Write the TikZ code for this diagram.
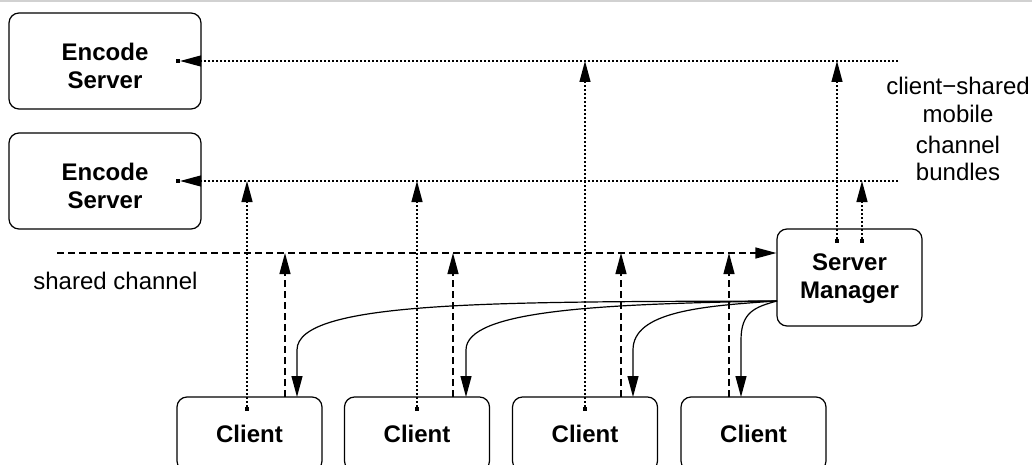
\documentclass[tikz,border=0pt]{standalone}
\usepackage{fontspec}
\setmainfont{Liberation Sans}
\usetikzlibrary{arrows.meta}
\begin{document}
\begin{tikzpicture}[x=0.5pt,y=-0.5pt,
  box/.style={draw, line width=0.6pt, rounded corners=5pt, inner sep=0pt},
  boxtext/.style={align=center, font=\bfseries\fontsize{12}{14}\selectfont, inner sep=0pt},
  plain/.style={font=\fontsize{12}{14}\selectfont, inner sep=0pt},
  dotline/.style={line width=0.65pt, dash pattern=on 1pt off 1pt},
  dashline/.style={line width=0.6pt, dash pattern=on 3.5pt off 2pt},
  solidline/.style={line width=0.6pt},
  tip/.style={-{Triangle[length=10.5pt,width=5.5pt]}},
  sq/.style={fill, minimum size=1.7pt, inner sep=0pt}]
\useasboundingbox (0,0) rectangle (1032,465);
\clip (0,0) rectangle (1032,465);
% faint rule along the top edge
\draw[black!18, line width=1pt] (0,1) -- (1032,1);

% encode servers
\node[box, minimum width=96pt, minimum height=48pt] (e1) at (105,61) {};
\node[boxtext] (e1t) at ([yshift=-2.25pt]e1.center) {Encode\\Server};
\node[box, minimum width=96pt, minimum height=48pt] (e2) at (105,181) {};
\node[boxtext] (e2t) at ([yshift=-2.25pt]e2.center) {Encode\\Server};

% server manager
\node[box, minimum width=72.5pt, minimum height=48.5pt] (sm) at (849.5,277.5) {};
\node[boxtext] (smt) at ([yshift=-0.75pt]sm.center) {Server\\Manager};

% clients
\foreach \i/\cx in {1/249.5,2/417,3/585,4/753.5}{
  \node[box, minimum width=72.5pt, minimum height=37pt] (c\i) at (\cx,434) {};
  \node[boxtext] (c\i t) at (c\i.center) {Client};
}

% labels
\node[plain, anchor=base west] (lsh) at (33,289) {shared channel};
\node[plain, anchor=base] (lb1) at (958,95) {client−shared};
\node[plain, anchor=base] (lb2) at (958,122) {mobile};
\node[plain, anchor=base] (lb3) at (958,153) {channel};
\node[plain, anchor=base] (lb4) at (958,180) {bundles};

% mobile channel bundles (dotted)
\coordinate (b1e) at (898,61);
\coordinate (b2e) at (898,181);
\node[sq] (e1d) at (178,61) {};
\node[sq] (e2d) at (178,181) {};
\draw[dotline, tip] (b1e) -- (e1d.east);
\draw[dotline, tip] (b2e) -- (e2d.east);

\node[sq] (smd1) at (837,241) {};
\node[sq] (smd2) at (862,241) {};
\draw[dotline, tip] (smd1) -- (smd1 |- b1e);
\draw[dotline, tip] (smd2) -- (smd2 |- b2e);

\node[sq] (c1d) at (247,409) {};
\node[sq] (c2d) at (417,409) {};
\node[sq] (c3d) at (585,409) {};
\draw[dotline, tip] (c1d) -- (c1d |- b2e);
\draw[dotline, tip] (c2d) -- (c2d |- b2e);
\draw[dotline, tip] (c3d) -- (c3d |- b1e);

% shared channel (dashed)
\coordinate (shw) at (57,253);
\draw[dashline, tip] (shw) -- (sm.west |- shw);
\foreach \i/\x in {1/285,2/453,3/621,4/729}{
  \coordinate (c\i s) at (\x,397);
  \draw[dashline, tip] (c\i s) -- (c\i s |- shw);
}

% replies from the server manager (solid)
\coordinate (smo) at (777,301);
\coordinate (c1r) at (297,397);
\coordinate (c2r) at (466,397);
\coordinate (c3r) at (633,397);
\coordinate (c4r) at (741,397);
\draw[solidline, tip] (smo) .. controls (500,302) and (297,300) .. (297,350) -- (c1r);
\draw[solidline, tip] (smo) .. controls (600,304) and (466,310) .. (466,350) -- (c2r);
\draw[solidline, tip] (smo) .. controls (700,306) and (633,312) .. (633,350) -- (c3r);
\draw[solidline, tip] (smo) .. controls (755,307) and (741,312) .. (741,340) -- (c4r);
\end{tikzpicture}
\end{document}
